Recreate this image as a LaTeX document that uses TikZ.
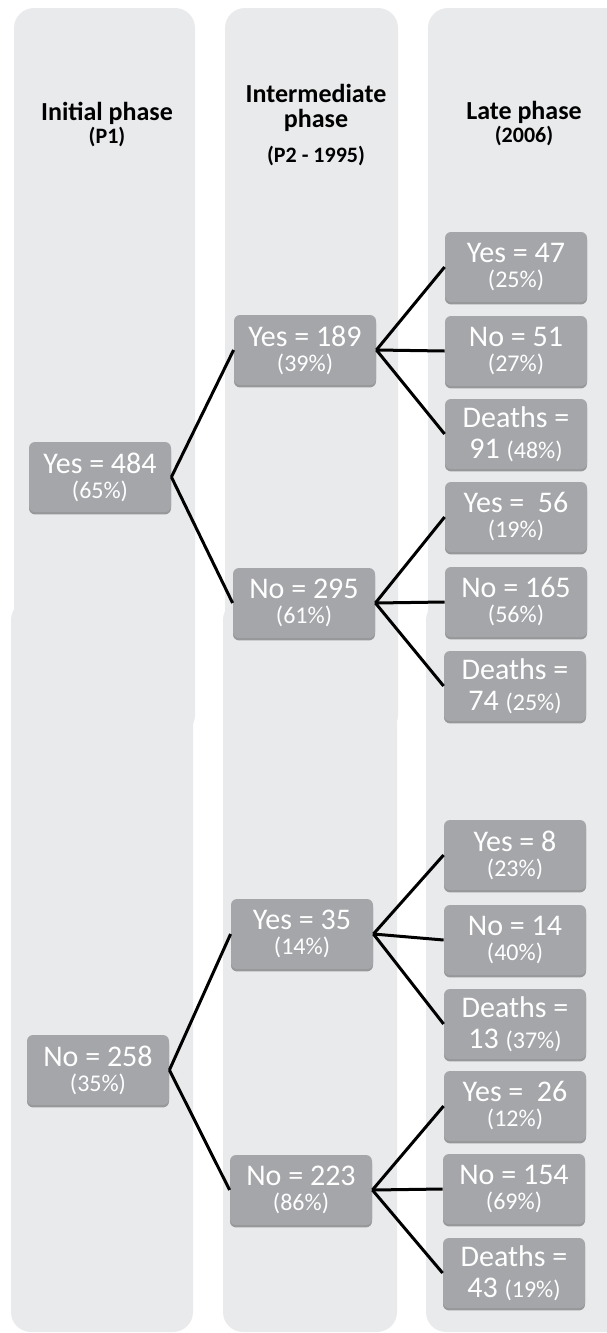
\documentclass[tikz,border=0pt]{standalone}
\usepackage{fontspec}
\setmainfont{Carlito}
\usetikzlibrary{shadows}
\definecolor{panelgray}{RGB}{233,234,236}
\definecolor{boxgray}{RGB}{165,166,169}
\tikzset{
  panel/.style={fill=panelgray,rounded corners=10pt},
  cell/.style={fill=boxgray,text=white,rounded corners=3pt,minimum width=71pt,
    minimum height=35pt,inner sep=0pt,align=center,font=\fontsize{15}{12.5}\selectfont,
    drop shadow={shadow xshift=0pt,shadow yshift=-1.2pt,fill=black,opacity=0.35}},
  link/.style={line width=1.5pt},
  title/.style={font=\bfseries\fontsize{13}{12.5}\selectfont,align=center}
}
\newcommand{\pct}[1]{{\fontsize{12}{12}\selectfont(#1\%)}}
\newcommand{\sub}[1]{{\fontsize{11}{11}\selectfont#1}}
\begin{document}
\begin{tikzpicture}[x=0.5pt,y=-0.5pt]
\useasboundingbox (0,0) rectangle (606,1333);
% column panels
\fill[panel] (14,8) rectangle (195,735);
\fill[panel] (11,600) rectangle (193,1332);
\fill[panel] (225,8) rectangle (398,735);
\fill[panel] (223,600) rectangle (397,1332);
\fill[panel] (428,8) rectangle (630,735);
\fill[panel] (426,600) rectangle (630,1332);
% titles
\node[title] (t1) at (107,125) {Initial phase\\[-1pt]\sub{(P1)}};
\node[title] (t2) at (316,125) {Intermediate\\phase\\[5pt]\sub{(P2 - 1995)}};
\node[title] (t3) at (524,124) {Late phase\\[-1pt]\sub{(2006)}};
% initial phase
\node[cell] (y484) at (100,477) {Yes = 484\\\pct{65}};
\node[cell] (n258) at (98,1070) {No = 258\\\pct{35}};
% intermediate phase
\node[cell] (y189) at (305,350) {Yes = 189\\\pct{39}};
\node[cell] (n295) at (304,603) {No = 295\\\pct{61}};
\node[cell] (y35) at (302,934) {Yes = 35\\\pct{14}};
\node[cell] (n223) at (301,1190) {No = 223\\\pct{86}};
% late phase
\node[cell] (y47) at (516,267) {Yes = 47\\\pct{25}};
\node[cell] (n51) at (516,351) {No = 51\\\pct{27}};
\node[cell] (d91) at (516,434) {Deaths =\\[3pt]91 \pct{48}};
\node[cell] (y56) at (516,517) {Yes = \ 56\\\pct{19}};
\node[cell] (n165) at (516,602) {No = 165\\\pct{56}};
\node[cell] (d74) at (515,686) {Deaths =\\[3pt]74 \pct{25}};
\node[cell] (y8) at (515,855) {Yes = 8\\\pct{23}};
\node[cell] (n14) at (515,940) {No = 14\\\pct{40}};
\node[cell] (d13) at (515,1024) {Deaths =\\[3pt]13 \pct{37}};
\node[cell] (y26) at (515,1106) {Yes = \ 26\\\pct{12}};
\node[cell] (n154) at (514,1189) {No = 154\\\pct{69}};
\node[cell] (d43) at (514,1273) {Deaths =\\[3pt]43 \pct{19}};
% links
\draw[link] (y484.east) -- (y189.west);
\draw[link] (y484.east) -- (n295.west);
\draw[link] (n258.east) -- (y35.west);
\draw[link] (n258.east) -- (n223.west);
\draw[link] (y189.east) -- (y47.west);
\draw[link] (y189.east) -- (n51.west);
\draw[link] (y189.east) -- (d91.west);
\draw[link] (n295.east) -- (y56.west);
\draw[link] (n295.east) -- (n165.west);
\draw[link] (n295.east) -- (d74.west);
\draw[link] (y35.east) -- (y8.west);
\draw[link] (y35.east) -- (n14.west);
\draw[link] (y35.east) -- (d13.west);
\draw[link] (n223.east) -- (y26.west);
\draw[link] (n223.east) -- (n154.west);
\draw[link] (n223.east) -- (d43.west);
\end{tikzpicture}
\end{document}
